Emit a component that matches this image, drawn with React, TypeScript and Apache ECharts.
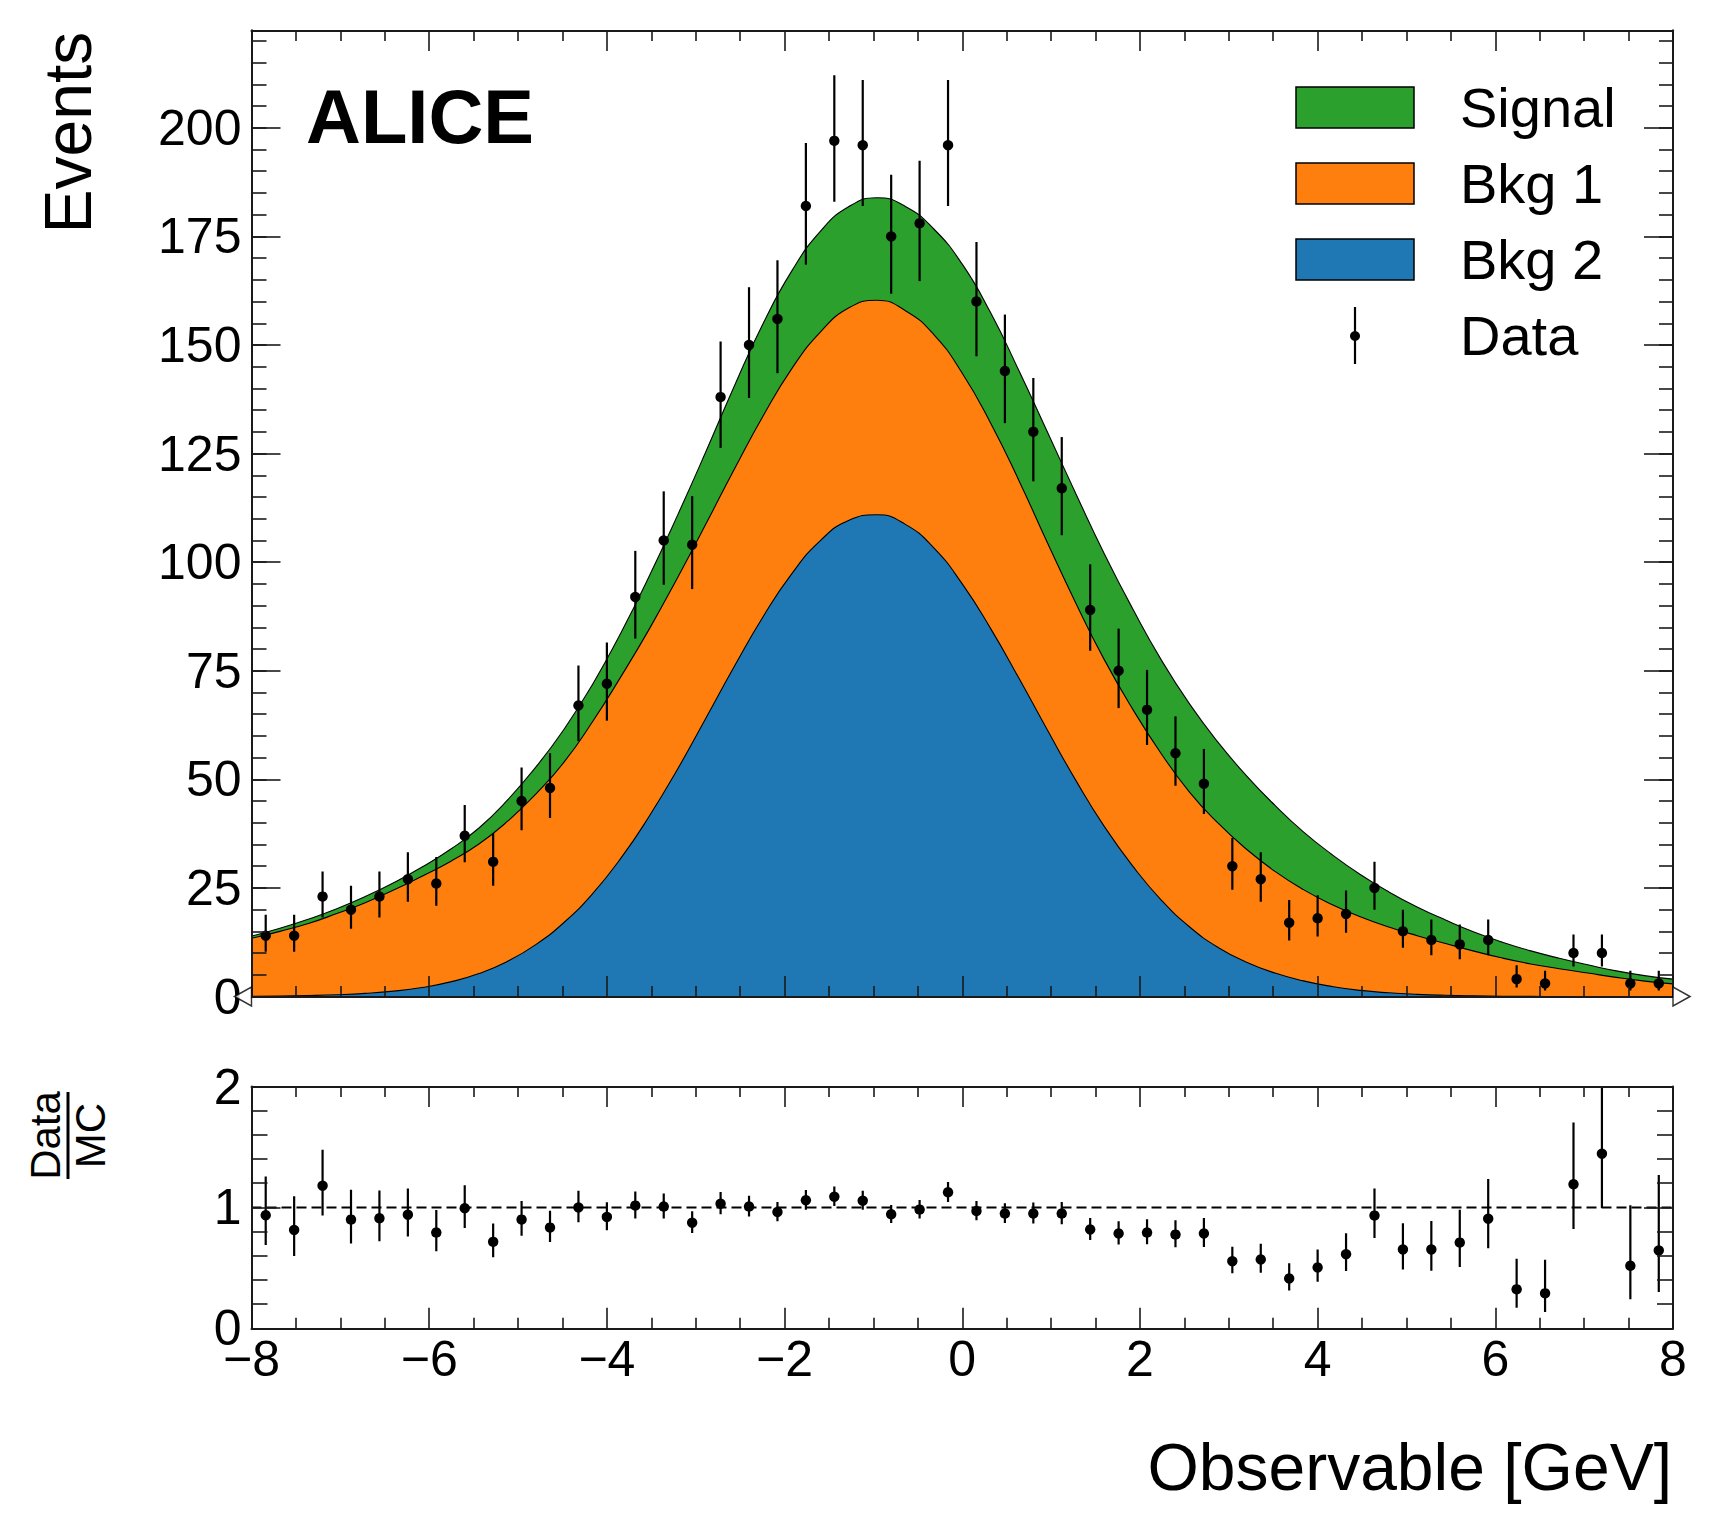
import React, { useEffect, useRef } from "react";
import * as echarts from "echarts";

// ---------- data ----------
const binCenters = [
  -7.84, -7.52, -7.2, -6.88, -6.56, -6.24, -5.92, -5.6, -5.28, -4.96,
  -4.64, -4.32, -4.0, -3.68, -3.36, -3.04, -2.72, -2.4, -2.08, -1.76,
  -1.44, -1.12, -0.8, -0.48, -0.16, 0.16, 0.48, 0.8, 1.12, 1.44,
  1.76, 2.08, 2.4, 2.72, 3.04, 3.36, 3.68, 4.0, 4.32, 4.64,
  4.96, 5.28, 5.6, 5.92, 6.24, 6.56, 6.88, 7.2, 7.52, 7.84,
];
const counts = [
  14, 14, 23, 20, 23, 27, 26, 37, 31, 45,
  48, 67, 72, 92, 105, 104, 138, 150, 156, 182,
  197, 196, 175, 178, 196, 160, 144, 130, 117, 89,
  75, 66, 56, 49, 30, 27, 17, 18, 19, 25,
  15, 13, 12, 13, 4, 3, 10, 10, 3, 3,
];
const errDown = [
  3.7, 3.7, 4.8, 4.4, 4.8, 5.2, 5.1, 6.1, 5.5, 6.7,
  6.9, 8.2, 8.5, 9.6, 10.2, 10.2, 11.7, 12.2, 12.5, 13.5,
  14.0, 14.0, 13.2, 13.3, 14.0, 12.6, 12.0, 11.4, 10.8, 9.4,
  8.6, 8.1, 7.5, 7.0, 5.4, 5.2, 4.1, 4.2, 4.3, 5.0,
  3.8, 3.5, 3.4, 3.5, 1.9, 1.6, 3.1, 3.1, 1.6, 1.6,
];
const errUp = [
  4.8, 4.8, 5.8, 5.5, 5.8, 6.2, 6.1, 7.1, 6.6, 7.7,
  8.0, 9.2, 9.5, 10.6, 11.3, 11.2, 12.8, 13.3, 13.5, 14.5,
  15.1, 15.0, 14.2, 14.4, 15.0, 13.7, 13.0, 12.4, 11.8, 10.5,
  9.7, 9.2, 8.5, 8.0, 6.5, 6.2, 5.2, 5.3, 5.4, 6.0,
  5.0, 4.7, 4.6, 4.7, 3.2, 2.9, 4.3, 4.3, 2.9, 2.9,
];
const ratio = [
  0.935, 0.814, 1.18, 0.899, 0.91, 0.94, 0.792, 0.993, 0.715, 0.899,
  0.833, 1.0, 0.921, 1.015, 1.007, 0.874, 1.031, 1.007, 0.962, 1.059,
  1.089, 1.056, 0.943, 0.982, 1.125, 0.97, 0.949, 0.949, 0.949, 0.817,
  0.784, 0.792, 0.775, 0.784, 0.555, 0.569, 0.412, 0.503, 0.613, 0.932,
  0.652, 0.652, 0.709, 0.907, 0.322, 0.289, 1.191, 1.444, 0.517, 0.644,
];
const ratioLo = [
  0.688, 0.599, 0.934, 0.701, 0.72, 0.759, 0.637, 0.829, 0.588, 0.765,
  0.713, 0.878, 0.812, 0.909, 0.909, 0.788, 0.944, 0.925, 0.885, 0.98,
  1.012, 0.981, 0.872, 0.909, 1.045, 0.894, 0.87, 0.866, 0.861, 0.731,
  0.694, 0.695, 0.671, 0.672, 0.455, 0.459, 0.313, 0.386, 0.474, 0.746,
  0.487, 0.476, 0.508, 0.663, 0.169, 0.135, 0.822, 0.996, 0.241, 0.301,
];
const ratioHi = [
  1.256, 1.093, 1.477, 1.146, 1.139, 1.156, 0.978, 1.184, 0.867, 1.053,
  0.972, 1.137, 1.043, 1.132, 1.115, 0.968, 1.127, 1.096, 1.045, 1.143,
  1.172, 1.137, 1.019, 1.061, 1.211, 1.053, 1.035, 1.04, 1.045, 0.913,
  0.885, 0.902, 0.893, 0.912, 0.675, 0.7, 0.538, 0.651, 0.787, 1.156,
  0.869, 0.888, 0.981, 1.235, 0.576, 0.568, 1.703, 2.065, 1.017, 1.267,
];

// stacked template curves, read at the bin edges (top edge of each layer)
const curveX = [
  -8, -7.68, -7.36, -7.04, -6.72, -6.4, -6.08, -5.76, -5.44, -5.12,
  -4.8, -4.48, -4.16, -3.84, -3.52, -3.2, -2.88, -2.56, -2.24, -1.92,
  -1.6, -1.28, -0.96, -0.64, -0.32, 0, 0.32, 0.64, 0.96, 1.28,
  1.6, 1.92, 2.24, 2.56, 2.88, 3.2, 3.52, 3.84, 4.16, 4.48,
  4.8, 5.12, 5.44, 5.76, 6.08, 6.4, 6.72, 7.04, 7.36, 7.68, 8,
];
const signalTop = [
  13.9, 15.7, 17.8, 20.2, 23.0, 26.2, 29.8, 33.9, 38.8, 45.2,
  52.8, 61.6, 71.9, 83.8, 96.9, 111.0, 125.7, 140.8, 155.0, 167.0,
  176.1, 181.8, 183.9, 181.9, 176.7, 168.6, 157.4, 144.0, 129.9, 115.7,
  101.9, 89.2, 77.5, 67.3, 58.5, 50.8, 44.0, 37.9, 32.7, 28.1,
  24.1, 20.6, 17.6, 14.85, 12.5, 10.5, 8.8, 7.3, 5.9, 4.8, 4.0,
];
const bkg1Top = [
  13.4, 15.0, 16.8, 19.1, 21.6, 24.5, 27.7, 31.1, 35.1, 40.3,
  46.6, 54.0, 63.3, 73.7, 84.7, 96.6, 109.0, 121.6, 133.7, 144.5,
  152.9, 158.5, 160.3, 157.9, 152.4, 143.5, 132.0, 118.7, 104.4, 90.5,
  77.5, 66.1, 55.9, 47.0, 39.9, 33.9, 28.8, 24.6, 21.2, 18.35,
  16.0, 14.0, 12.2, 10.45, 8.85, 7.5, 6.4, 5.4, 4.4, 3.55, 2.9,
];
const bkg2Top = [
  0.05, 0.11, 0.22, 0.4, 0.71, 1.23, 2.07, 3.36, 5.29, 8.08,
  11.95, 17.1, 23.7, 31.9, 41.6, 52.5, 64.3, 76.2, 87.5, 97.3,
  104.9, 109.6, 110.9, 108.7, 103.3, 95.0, 84.7, 73.2, 61.3, 49.7,
  39.1, 30.0, 22.2, 16.0, 11.3, 7.9, 5.4, 3.6, 2.3, 1.4,
  0.85, 0.5, 0.28, 0.15, 0.07, 0.03, 0.01, 0, 0, 0, 0,
];

const refLineX = [-8, 8];
const refLineY = [1, 1];
const flowX = [-8, 8];
const flowY = [0, 0];

const legendNames = ["Signal", "Bkg 1", "Bkg 2", "Data"];
const COLORS = { signal: "#2ca02c", bkg1: "#ff7f0e", bkg2: "#1f77b4" };

// ---------- layout ----------
const W = 1717;
const H = 1535;
const FONT = '"Liberation Sans", Arial, Helvetica, sans-serif';
const AX = "#1a1a1a";
const G0 = { left: 251.5, top: 30.5, width: 1421.5, height: 966 };
const G1 = { left: 251.5, top: 1086.5, width: 1421.5, height: 241.8 };

const minusFmt = (v: number) => (v < 0 ? "\u2212" + Math.abs(v) : String(v));

function xAxis(gridIndex: number, position: string, showLabel: boolean) {
  return {
    type: "value",
    gridIndex,
    position,
    min: -8,
    max: 8,
    interval: 2,
    z: 10,
    axisLine: { show: true, onZero: false, lineStyle: { color: AX, width: 2 } },
    axisTick: { show: true, inside: true, length: 20.5, lineStyle: { color: AX, width: 1.6 } },
    minorTick: { show: true, splitNumber: 4, length: 10.5, lineStyle: { color: AX, width: 1.6 } },
    splitLine: { show: false },
    minorSplitLine: { show: false },
    axisLabel: {
      show: showLabel,
      formatter: minusFmt,
      fontSize: 50,
      lineHeight: 30,
      fontFamily: FONT,
      color: "#000",
      margin: 16,
      showMinLabel: true,
      showMaxLabel: true,
      hideOverlap: false,
    },
  };
}

function yAxis(
  gridIndex: number,
  position: string,
  min: number,
  max: number,
  interval: number,
  tickLen: number,
  showLabel: boolean,
  minor: number,
  fmt?: (v: number) => string
) {
  return {
    type: "value",
    gridIndex,
    position,
    min,
    max,
    interval,
    z: 10,
    axisLine: { show: true, onZero: false, lineStyle: { color: AX, width: 2 } },
    axisTick: { show: true, inside: true, length: tickLen, lineStyle: { color: AX, width: 1.6 } },
    minorTick: {
      show: minor > 0,
      splitNumber: minor > 0 ? minor : 5,
      length: 16,
      lineStyle: { color: AX, width: 1.6 },
    },
    splitLine: { show: false },
    minorSplitLine: { show: false },
    axisLabel: {
      show: showLabel,
      formatter: fmt,
      fontSize: 50,
      lineHeight: 30,
      fontFamily: FONT,
      color: "#000",
      margin: 10,
      showMinLabel: true,
      showMaxLabel: true,
      hideOverlap: false,
    },
  };
}

const YMAX = 222.4;
const main25 = (v: number) => (Math.abs(v % 25) < 1e-6 ? String(v) : "");

function errorBarItem(api: any, r: number) {
  const x = api.value(0);
  const p = api.coord([x, api.value(1)]);
  const lo = api.coord([x, api.value(2)]);
  const hi = api.coord([x, api.value(3)]);
  return {
    type: "group",
    children: [
      {
        type: "line",
        shape: { x1: p[0], y1: lo[1], x2: p[0], y2: hi[1] },
        style: { stroke: "#000", lineWidth: 2.2 },
      },
      { type: "circle", shape: { cx: p[0], cy: p[1], r }, style: { fill: "#000" } },
    ],
  };
}

function areaSeries(name: string, ys: number[], color: string) {
  return {
    type: "line",
    name,
    xAxisIndex: 0,
    yAxisIndex: 0,
    data: curveX.map((x, i) => [x, ys[i]]),
    smooth: 0.5,
    symbol: "none",
    showSymbol: false,
    silent: true,
    z: 2,
    lineStyle: { color: "#000", width: 1.1 },
    areaStyle: { color, opacity: 1 },
  };
}

export default function App() {
  const ref = useRef<HTMLDivElement>(null);
  useEffect(() => {
    if (!ref.current) return;
    const chart = echarts.init(ref.current, null, { renderer: "svg" });

    const legendRows = [
      { name: legendNames[0], color: COLORS.signal, y: 87, ty: 107 },
      { name: legendNames[1], color: COLORS.bkg1, y: 163, ty: 183 },
      { name: legendNames[2], color: COLORS.bkg2, y: 239, ty: 259 },
    ];

    const graphic: any[] = [
      {
        type: "text",
        x: 306,
        y: 116.5,
        z: 100,
        style: {
          text: "ALICE",
          fontSize: 76,
          fontWeight: "bold",
          fontFamily: FONT,
          fill: "#000",
          align: "left",
          verticalAlign: "middle",
        },
      },
      {
        type: "group",
        x: 67.5,
        y: 31.7,
        rotation: Math.PI / 2,
        z: 100,
        children: [
          {
            type: "text",
            x: 0,
            y: 0,
            style: {
              text: "Events",
              fontSize: 66,
              fontFamily: FONT,
              fill: "#000",
              align: "right",
              verticalAlign: "middle",
            },
          },
        ],
      },
      {
        type: "text",
        x: 1672,
        y: 1467,
        z: 100,
        style: {
          text: "Observable [GeV]",
          fontSize: 66,
          fontFamily: FONT,
          fill: "#000",
          align: "right",
          verticalAlign: "middle",
        },
      },
      {
        type: "group",
        x: 68,
        y: 1135.5,
        rotation: Math.PI / 2,
        z: 100,
        children: [
          {
            type: "text",
            x: 0,
            y: -22.5,
            style: {
              text: "Data",
              fontSize: 42,
              fontFamily: FONT,
              fill: "#000",
              align: "center",
              verticalAlign: "middle",
            },
          },
          {
            type: "text",
            x: 0,
            y: 22,
            style: {
              text: "MC",
              fontSize: 42,
              fontFamily: FONT,
              fill: "#000",
              align: "center",
              verticalAlign: "middle",
            },
          },
          {
            type: "line",
            shape: { x1: -43.5, y1: 0, x2: 43.5, y2: 0 },
            style: { stroke: "#000", lineWidth: 3 },
          },
        ],
      },
    ];

    legendRows.forEach((row) => {
      graphic.push({
        type: "rect",
        z: 100,
        shape: { x: 1296, y: row.y, width: 118, height: 41 },
        style: { fill: row.color, stroke: "#000", lineWidth: 1.5 },
      });
      graphic.push({
        type: "text",
        x: 1460,
        y: row.ty,
        z: 100,
        style: {
          text: row.name,
          fontSize: 56,
          fontFamily: FONT,
          fill: "#000",
          align: "left",
          verticalAlign: "middle",
        },
      });
    });
    graphic.push({
      type: "line",
      z: 100,
      shape: { x1: 1355, y1: 307, x2: 1355, y2: 364 },
      style: { stroke: "#000", lineWidth: 2.2 },
    });
    graphic.push({
      type: "circle",
      z: 100,
      shape: { cx: 1355, cy: 336, r: 5 },
      style: { fill: "#000" },
    });
    graphic.push({
      type: "text",
      x: 1460,
      y: 335,
      z: 100,
      style: {
        text: legendNames[3],
        fontSize: 56,
        fontFamily: FONT,
        fill: "#000",
        align: "left",
        verticalAlign: "middle",
      },
    });

    const option: any = {
      animation: false,
      backgroundColor: "#ffffff",
      textStyle: { fontFamily: FONT },
      grid: [
        { ...G0, containLabel: false, outerBoundsMode: "none", show: false },
        { ...G1, containLabel: false, outerBoundsMode: "none", show: false },
      ],
      xAxis: [
        xAxis(0, "bottom", false),
        xAxis(0, "top", false),
        xAxis(1, "bottom", true),
        xAxis(1, "top", false),
      ],
      yAxis: [
        yAxis(0, "left", 0, YMAX, 25, 29, true, 0, main25),
        yAxis(0, "left", 0, YMAX, 5, 15, false, 0),
        yAxis(0, "right", 0, YMAX, 25, 29, false, 0),
        yAxis(0, "right", 0, YMAX, 5, 14, false, 0),
        yAxis(1, "left", 0, 2, 1, 29, true, 5, (v: number) => String(v)),
        yAxis(1, "right", 0, 2, 1, 29, false, 5),
      ],
      series: [
        areaSeries("Signal", signalTop, COLORS.signal),
        areaSeries("Bkg 1", bkg1Top, COLORS.bkg1),
        areaSeries("Bkg 2", bkg2Top, COLORS.bkg2),
        {
          type: "custom",
          name: "Data",
          xAxisIndex: 0,
          yAxisIndex: 0,
          z: 4,
          clip: true,
          encode: { x: 0, y: 1 },
          data: binCenters.map((x, i) => [x, counts[i], counts[i] - errDown[i], counts[i] + errUp[i]]),
          renderItem: (_p: any, api: any) => errorBarItem(api, 5.2),
        },
        {
          type: "line",
          xAxisIndex: 2,
          yAxisIndex: 4,
          silent: true,
          symbol: "none",
          z: 3,
          data: refLineX.map((x, i) => [x, refLineY[i]]),
          lineStyle: { color: "#000", width: 2, type: [10, 5] },
        },
        {
          type: "custom",
          name: "Ratio",
          xAxisIndex: 2,
          yAxisIndex: 4,
          z: 4,
          clip: true,
          encode: { x: 0, y: 1 },
          data: binCenters.map((x, i) => [x, ratio[i], ratioLo[i], ratioHi[i]]),
          renderItem: (_p: any, api: any) => errorBarItem(api, 5.2),
        },
        {
          type: "scatter",
          xAxisIndex: 0,
          yAxisIndex: 0,
          z: 20,
          clip: false,
          silent: true,
          symbol: "triangle",
          symbolSize: [19, 17],
          itemStyle: { color: "#ffffff", borderColor: "#000", borderWidth: 1.5 },
          data: flowX.map((x, i) => ({
            value: [x, flowY[i]],
            symbolRotate: x < 0 ? 90 : -90,
            symbolOffset: [x < 0 ? -8.5 : 8.5, 0],
          })),
        },
      ],
      graphic,
    };

    chart.setOption(option);
    return () => chart.dispose();
  }, []);

  return (
    <div
      ref={ref}
      style={{ position: "absolute", left: 0, top: 0, width: W, height: H, background: "#fff" }}
    />
  );
}
